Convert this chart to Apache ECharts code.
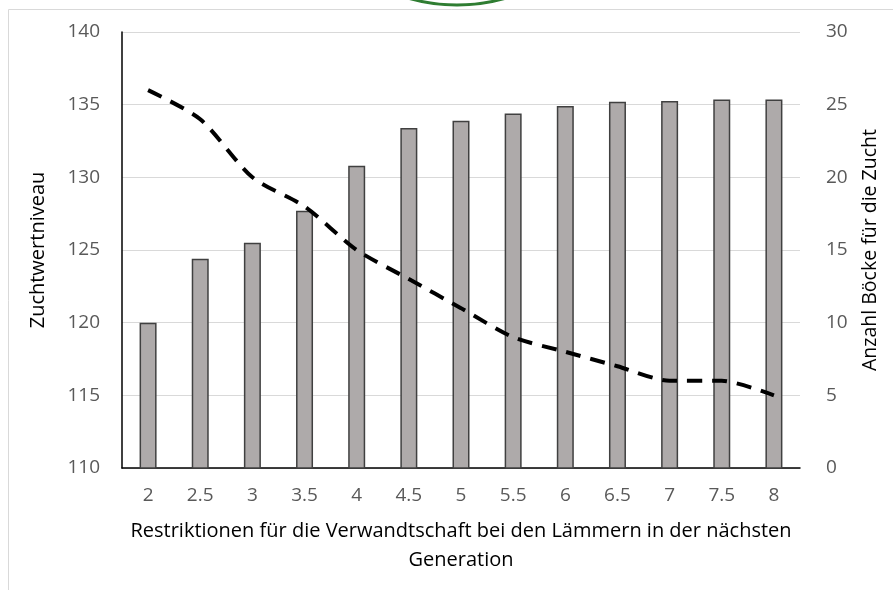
<!DOCTYPE html>
<html>
<head>
<meta charset="utf-8">
<script src="https://cdn.jsdelivr.net/npm/echarts@6/dist/echarts.min.js"></script>
<style>
  html, body { margin: 0; padding: 0; background: #fff; }
  #chart { width: 893px; height: 590px; }
</style>
</head>
<body>
<div id="chart"></div>
<script>
// Werte
var restriktionen = ['2', '2.5', '3', '3.5', '4', '4.5', '5', '5.5', '6', '6.5', '7', '7.5', '8'];
var zuchtwert = [120, 124.4, 125.5, 127.7, 130.8, 133.4, 133.9, 134.4, 134.9, 135.2, 135.25, 135.35, 135.35];
var anzahlBoecke = [26, 24, 20, 18, 15, 13, 11, 9, 8, 7, 6, 6, 5];

var font = 'Open Sans';
var grau = '#595959';

var chart = echarts.init(document.getElementById('chart'));
chart.setOption({
  animation: false,
  textStyle: { fontFamily: font },
  graphic: [
    {
      type: 'rect',
      shape: { x: 8.5, y: 9.5, width: 900, height: 600 },
      style: { fill: 'none', stroke: '#d9d9d9', lineWidth: 1 },
      silent: true
    },
    {
      type: 'arc',
      shape: { cx: 457, cy: -172, r: 177, startAngle: 0, endAngle: Math.PI },
      style: { fill: 'none', stroke: '#2f7d32', lineWidth: 3 },
      silent: true
    }
  ],
  grid: { left: 122, right: 93, top: 32, bottom: 122 },
  xAxis: {
    type: 'category',
    data: restriktionen,
    axisLine: { lineStyle: { color: '#000', width: 1.5 } },
    axisTick: { show: false },
    axisLabel: { color: grau, fontSize: 19, margin: 18 },
    name: 'Restriktionen für die Verwandtschaft bei den Lämmern in der nächsten\nGeneration',
    nameLocation: 'middle',
    nameGap: 49,
    nameTextStyle: { color: '#000', fontSize: 20, lineHeight: 29, verticalAlign: 'top' }
  },
  yAxis: [
    {
      type: 'value',
      min: 110, max: 140, interval: 5,
      axisLine: { show: true, lineStyle: { color: '#000', width: 1.5 } },
      axisTick: { show: false },
      axisLabel: { color: grau, fontSize: 19, margin: 22 },
      splitLine: { lineStyle: { color: '#d9d9d9', width: 1 } },
      name: 'Zuchtwertniveau',
      nameLocation: 'middle',
      nameGap: 74,
      nameTextStyle: { color: '#000', fontSize: 20 }
    },
    {
      type: 'value',
      min: 0, max: 30, interval: 5,
      axisLine: { show: false },
      axisTick: { show: false },
      axisLabel: { color: grau, fontSize: 19, margin: 26 },
      splitLine: { show: false },
      name: 'Anzahl Böcke für die Zucht',
      nameLocation: 'middle',
      nameGap: 60,
      nameTextStyle: { color: '#000', fontSize: 19.5 }
    }
  ],
  series: [
    {
      type: 'bar',
      yAxisIndex: 0,
      data: zuchtwert,
      barWidth: 17,
      itemStyle: { color: '#aeaaaa', borderColor: '#404040', borderWidth: 1.5 },
      z: 2
    },
    {
      type: 'line',
      yAxisIndex: 1,
      data: anzahlBoecke,
      symbol: 'none',
      smooth: 0.25,
      lineStyle: { color: '#000', width: 4, type: [15, 10], cap: 'butt' },
      z: 3
    }
  ]
});
</script>
</body>
</html>
